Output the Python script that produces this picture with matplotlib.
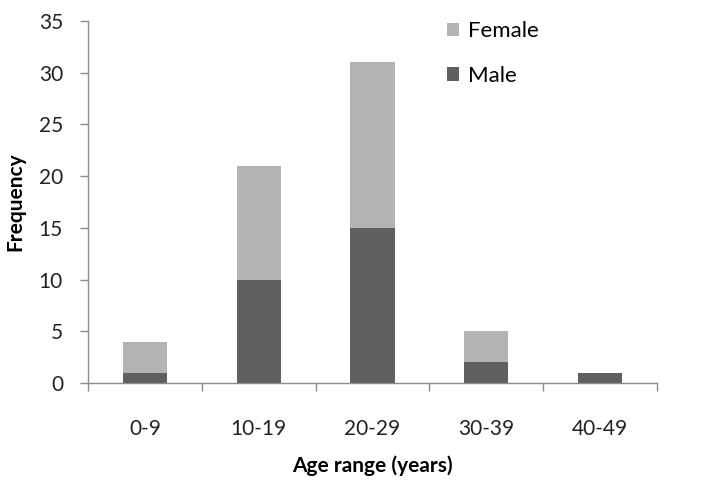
import matplotlib.pyplot as plt
import numpy as np

plt.rcParams['font.family'] = ['Lato', 'DejaVu Sans']

age_ranges = ['0-9', '10-19', '20-29', '30-39', '40-49']
male = [1, 10, 15, 2, 1]
female = [3, 11, 16, 3, 0]

male_color = '#606060'
female_color = '#b3b3b3'
axis_color = '#8c8c8c'

fig = plt.figure(figsize=(7.23, 4.92), dpi=100)
ax = fig.add_axes([88 / 723, 1 - 383 / 492, (657 - 88) / 723, (383 - 21) / 492])

x = np.arange(len(age_ranges))
w = 0.39
ax.bar(x, male, w, color=male_color, label='Male')
ax.bar(x, female, w, bottom=male, color=female_color, label='Female')

ax.set_xlim(-0.5, len(age_ranges) - 0.5)
ax.set_ylim(0, 35)
ax.set_yticks(range(0, 36, 5))

# category separators as major ticks, labels on minor ticks
ax.set_xticks(np.arange(-0.5, len(age_ranges), 1.0))
ax.set_xticklabels([])
ax.set_xticks(x, minor=True)
ax.set_xticklabels(age_ranges, minor=True)
ax.tick_params(axis='x', which='major', length=6, color=axis_color, width=1)
ax.tick_params(axis='x', which='minor', length=0, pad=26, labelsize=15, labelcolor='#222222')
ax.tick_params(axis='y', length=6, color=axis_color, width=1, pad=12,
               labelsize=15, labelcolor='#222222')

for s in ['top', 'right']:
    ax.spines[s].set_visible(False)
for s in ['left', 'bottom']:
    ax.spines[s].set_color(axis_color)
    ax.spines[s].set_linewidth(1)

ax.set_ylabel('Frequency', fontsize=15, fontweight='bold')
ax.yaxis.set_label_coords(-0.11, 0.5)
ax.set_xlabel('Age range (years)', fontsize=15, fontweight='bold')
ax.xaxis.set_label_coords(0.5, -0.2)

handles, labels = ax.get_legend_handles_labels()
ax.legend(handles[::-1], labels[::-1], loc='upper left', bbox_to_anchor=(0.596, 1.055),
          frameon=False, fontsize=16, handlelength=0.55, handleheight=0.55,
          handletextpad=0.4, labelspacing=1.12)

fig.savefig('out.png', dpi=100)
